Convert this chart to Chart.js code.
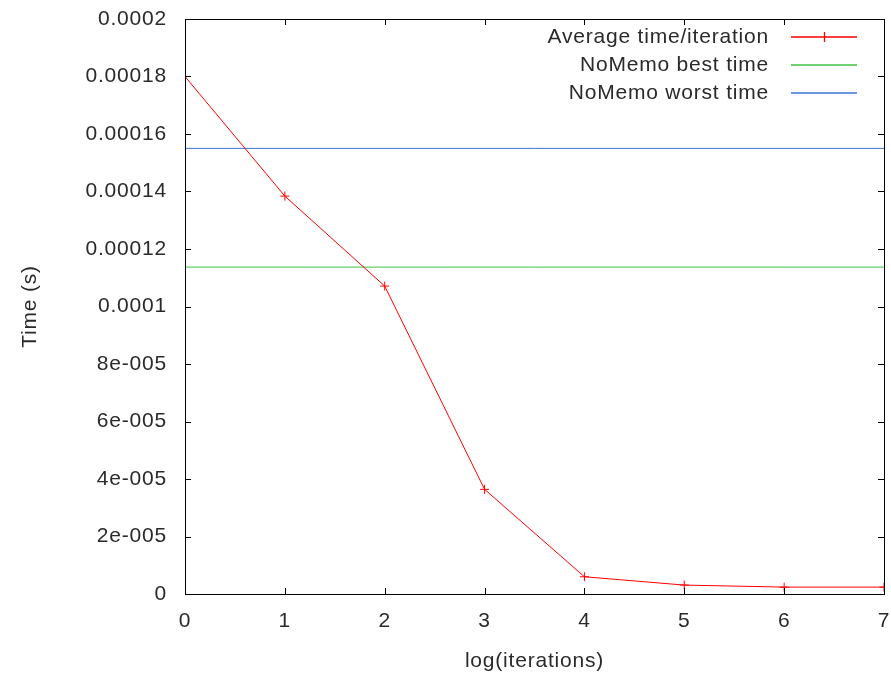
<!DOCTYPE html>
<html>
<head>
<meta charset="utf-8">
<script src="https://cdn.jsdelivr.net/npm/chart.js@4/dist/chart.umd.min.js"></script>
<style>
  html, body { margin: 0; padding: 0; background: #fff; }
  #wrap { width: 891px; height: 676px; }
</style>
</head>
<body>
<div id="wrap"><canvas id="grafico" width="891" height="676"></canvas></div>
<script>
// dati
const iterazioni = [0, 1, 2, 3, 4, 5, 6, 7];
const tempoMedio = [0.00018, 0.0001384, 0.0001071, 0.0000364, 0.0000060, 0.0000031, 0.0000024, 0.0000024];
const bestTime = 0.0001137;
const worstTime = 0.000155;
const yTickLabels = ["0", "2e-005", "4e-005", "6e-005", "8e-005", "0.0001",
                     "0.00012", "0.00014", "0.00016", "0.00018", "0.0002"];
const xTickLabels = ["0", "1", "2", "3", "4", "5", "6", "7"];

const font = "Liberation Sans, Arial, sans-serif";
const fontSize = 21;
const textColor = "#2a2a2a";

// spaziatura lettere come nel png di gnuplot
const spaziatura = {
  id: "spaziatura",
  beforeInit(chart) { chart.ctx.letterSpacing = "0.8px"; },
  beforeDraw(chart) { chart.ctx.letterSpacing = "0.8px"; }
};

// cornice e tacche verso l'interno, su tutti i lati (stile gnuplot)
const cornice = {
  id: "cornice",
  afterDraw(chart) {
    const ctx = chart.ctx, a = chart.chartArea;
    const xs = chart.scales.x, ys = chart.scales.y;
    const t = 6;
    ctx.save();
    ctx.strokeStyle = "#000";
    ctx.lineWidth = 1;
    ctx.strokeRect(Math.round(a.left) + 0.5, Math.round(a.top) + 0.5,
                   Math.round(a.right - a.left), Math.round(a.bottom - a.top));
    ctx.beginPath();
    for (const v of iterazioni) {
      const px = Math.round(xs.getPixelForValue(v)) + 0.5;
      ctx.moveTo(px, a.bottom); ctx.lineTo(px, a.bottom - t);
      ctx.moveTo(px, a.top); ctx.lineTo(px, a.top + t);
    }
    for (let i = 0; i < yTickLabels.length; i++) {
      const py = Math.round(ys.getPixelForValue(i * 0.00002)) + 0.5;
      ctx.moveTo(a.left, py); ctx.lineTo(a.left + t, py);
      ctx.moveTo(a.right, py); ctx.lineTo(a.right - t, py);
    }
    ctx.stroke();

    // legenda
    ctx.font = fontSize + "px " + font;
    ctx.textAlign = "right";
    ctx.textBaseline = "middle";
    chart.data.datasets.forEach((ds, i) => {
      const y = 37 + i * 28;
      ctx.fillStyle = textColor;
      ctx.fillText(ds.label, 769, y);
      ctx.strokeStyle = ds.borderColor;
      ctx.lineWidth = 1.3;
      ctx.beginPath();
      ctx.moveTo(791, y); ctx.lineTo(857, y);
      if (ds.pointStyle === "cross") {
        ctx.moveTo(824.5, y - 5); ctx.lineTo(824.5, y + 5);
      }
      ctx.stroke();
    });
    ctx.restore();
  }
};

new Chart(document.getElementById("grafico"), {
  type: "line",
  data: {
    datasets: [
      {
        label: "Average time/iteration",
        data: iterazioni.map((x, i) => ({ x: x, y: tempoMedio[i] })),
        borderColor: "#ff0000",
        backgroundColor: "#ff0000",
        borderWidth: 1,
        pointStyle: "cross",
        pointRadius: 4.5,
        pointBorderWidth: 1
      },
      {
        label: "NoMemo best time",
        data: [{ x: 0, y: bestTime }, { x: 7, y: bestTime }],
        borderColor: "#3fc23f",
        borderWidth: 1,
        pointRadius: 0
      },
      {
        label: "NoMemo worst time",
        data: [{ x: 0, y: worstTime }, { x: 7, y: worstTime }],
        borderColor: "#3b77d2",
        borderWidth: 1,
        pointRadius: 0
      }
    ]
  },
  options: {
    responsive: false,
    animation: false,
    layout: { padding: { top: 19, right: 7, left: 0, bottom: 0 } },
    plugins: { legend: { display: false }, tooltip: { enabled: false } },
    scales: {
      x: {
        type: "linear",
        min: 0, max: 7,
        grid: { display: false, drawTicks: false },
        border: { display: false },
        ticks: {
          stepSize: 1,
          padding: 15,
          color: textColor,
          font: { family: font, size: fontSize },
          maxRotation: 0,
          callback: (v) => xTickLabels[v]
        },
        title: {
          display: true,
          text: "log(iterations)",
          color: textColor,
          font: { family: font, size: fontSize },
          padding: { top: 14, bottom: 2 }
        },
        afterFit: (s) => { s.height = 82; s.paddingLeft = 0; s.paddingRight = 0; }
      },
      y: {
        min: 0, max: 0.0002,
        grid: { display: false, drawTicks: false },
        border: { display: false },
        ticks: {
          stepSize: 0.00002,
          padding: 18,
          color: textColor,
          font: { family: font, size: fontSize },
          callback: (v) => yTickLabels[Math.round(v / 0.00002)]
        },
        title: {
          display: true,
          text: "Time (s)",
          color: textColor,
          font: { family: font, size: fontSize },
          padding: { top: 18, bottom: 0 }
        },
        afterFit: (s) => { s.width = 185; s.paddingTop = 0; s.paddingBottom = 0; }
      }
    }
  },
  plugins: [spaziatura, cornice]
});
</script>
</body>
</html>
